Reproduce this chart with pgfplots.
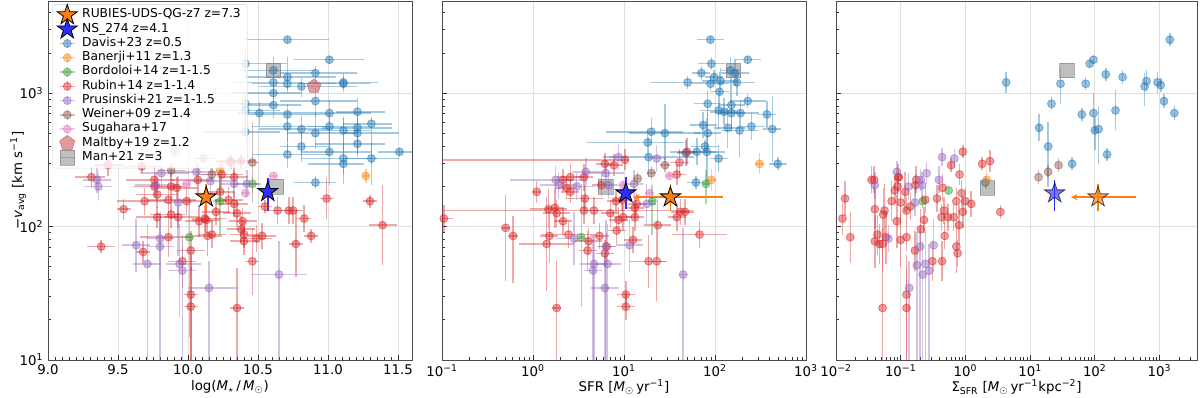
\documentclass[border=0pt]{standalone}
\usepackage{fontspec}
\setmainfont{DejaVu Sans}
\usepackage{pgfplots}
\pgfplotsset{compat=1.18}
\usepackage{pgfplotstable}
\usetikzlibrary{arrows.meta}

\definecolor{cblue}{HTML}{1F77B4}
\definecolor{corange}{HTML}{FF7F0E}
\definecolor{cgreen}{HTML}{2CA02C}
\definecolor{cred}{HTML}{D62728}
\definecolor{cpurple}{HTML}{9467BD}
\definecolor{cbrown}{HTML}{8C564B}
\definecolor{cpink}{HTML}{E377C2}
\definecolor{cmalt}{HTML}{CD5C5C}
\definecolor{cstar}{HTML}{2E2EFF}

% filled five-point star
\pgfdeclareplotmark{fstar}{%
  \pgfpathmoveto{\pgfpointpolar{90}{\pgfplotmarksize}}%
  \pgfpathlineto{\pgfpointpolar{126}{0.382\pgfplotmarksize}}%
  \pgfpathlineto{\pgfpointpolar{162}{\pgfplotmarksize}}%
  \pgfpathlineto{\pgfpointpolar{198}{0.382\pgfplotmarksize}}%
  \pgfpathlineto{\pgfpointpolar{234}{\pgfplotmarksize}}%
  \pgfpathlineto{\pgfpointpolar{270}{0.382\pgfplotmarksize}}%
  \pgfpathlineto{\pgfpointpolar{306}{\pgfplotmarksize}}%
  \pgfpathlineto{\pgfpointpolar{342}{0.382\pgfplotmarksize}}%
  \pgfpathlineto{\pgfpointpolar{18}{\pgfplotmarksize}}%
  \pgfpathlineto{\pgfpointpolar{54}{0.382\pgfplotmarksize}}%
  \pgfpathclose
  \pgfusepathqfillstroke}

\pgfplotsset{
  ds/.style={only marks, mark=*, mark size=3pt,
    mark options={fill=#1, draw=#1, fill opacity=0.45, draw opacity=0.5, line width=0.6pt},
    error bars/y dir=both, error bars/y explicit, error bars/error mark=none,
    error bars/error bar style={#1, opacity=0.4, line width=1.1pt}},
  dsx/.style={ds=#1, error bars/x dir=both, error bars/x explicit},
  man/.style={only marks, mark=square*, mark size=5.5pt,
    mark options={fill=gray, draw=gray, fill opacity=0.5, draw opacity=0.6}},
  malt/.style={only marks, mark=pentagon*, mark size=5.5pt,
    mark options={fill=cmalt, draw=cmalt!80!black, fill opacity=0.6, draw opacity=0.6}},
  starp/.style 2 args={only marks, mark=fstar, mark size=8pt,
    mark options={fill=#1, draw=black, fill opacity=#2, draw opacity=#2, line width=0.6pt},
    error bars/y dir=both, error bars/y explicit, error bars/error mark=none,
    error bars/error bar style={#1, line width=1.1pt}},
  panel/.style={scale only axis, height=269.25pt, anchor=south west,
    ymin=1, ymax=3.69, ytick={1,2,3},
    minor ytick={1.30103,1.47712,1.60206,1.69897,1.77815,1.84510,1.90309,1.95424,
      2.30103,2.47712,2.60206,2.69897,2.77815,2.84510,2.90309,2.95424,
      3.30103,3.47712,3.60206},
    tick align=inside, xtick pos=bottom, ytick pos=left,
    xmajorgrids, ymajorgrids, major grid style={black!12, line width=0.7pt},
    major tick length=4pt, minor tick length=2.2pt,
    every tick/.style={black!80, line width=0.5pt},
    tick label style={font=\fontsize{10}{12}\selectfont},
    label style={font=\fontsize{10}{12}\selectfont},
    every axis x label/.style={at={(axis description cs:0.5,0)}, anchor=north, yshift=-11.5pt},
    every axis y label/.style={at={(axis description cs:-0.082,0.5)}, anchor=center, rotate=90},
    axis line style={black!70, line width=0.7pt}},
}

\newcommand\legerr[1]{\addlegendimage{legend image code/.code={%
  \path (0cm,0cm) (0.6cm,0cm);
  \draw[overlay, #1, draw opacity=0.4, line width=1.1pt] (0.1cm,0cm) -- (0.5cm,0cm) (0.3cm,-0.13cm) -- (0.3cm,0.13cm);
  \draw[overlay, #1, fill=#1, fill opacity=0.45, draw opacity=0.5, line width=0.6pt] (0.3cm,0cm) circle (3pt);}}}

% ---------------- panel 1: log stellar mass ----------------
\pgfplotstableread{
x y exm exp eym eyp
10.71 3.40 0.30 0.30 0.03 0.03
11.01 3.25 0.25 0.25 0.03 0.03
10.41 3.22 0.20 0.30 0.10 0.12
10.61 3.17 0.25 0.30 0.20 0.10
10.91 3.15 0.25 0.30 0.08 0.05
10.71 3.12 0.30 0.35 0.10 0.15
10.61 3.08 0.30 0.20 0.08 0.10
10.71 3.07 0.25 0.35 0.06 0.06
10.81 3.05 0.30 0.40 0.08 0.06
11.11 3.07 0.30 0.20 0.06 0.08
11.11 3.08 0.25 0.25 0.05 0.05
10.61 3.00 0.30 0.20 0.10 0.08
10.41 2.92 0.30 0.20 0.15 0.10
10.61 2.91 0.20 0.20 0.10 0.10
10.91 2.94 0.25 0.30 0.12 0.10
10.41 2.87 0.30 0.25 0.10 0.10
10.51 2.85 0.15 0.25 0.10 0.08
10.71 2.84 0.30 0.30 0.30 0.08
11.01 2.85 0.25 0.30 0.15 0.10
11.21 2.86 0.15 0.20 0.10 0.10
10.41 2.71 0.30 0.25 0.08 0.08
10.71 2.75 0.25 0.30 0.12 0.10
10.81 2.73 0.30 0.20 0.20 0.10
10.91 2.70 0.20 0.30 0.12 0.15
11.01 2.75 0.15 0.30 0.20 0.10
11.11 2.72 0.25 0.20 0.15 0.10
11.21 2.74 0.25 0.25 0.20 0.10
11.21 2.70 0.10 0.30 0.15 0.10
11.31 2.77 0.20 0.15 0.30 0.05
11.21 2.62 0.30 0.20 0.10 0.10
10.81 2.60 0.15 0.20 0.12 0.10
10.71 2.54 0.25 0.30 0.10 0.08
11.01 2.56 0.20 0.30 0.25 0.15
11.11 2.51 0.30 0.25 0.12 0.30
11.11 2.47 0.25 0.15 0.15 0.15
11.31 2.51 0.20 0.20 0.20 0.12
11.51 2.56 0.15 0.15 0.03 0.03
10.91 2.33 0.15 0.15 0.05 0.05
}\tAblue
\pgfplotstableread{
x y exm exp eym eyp
10.23 2.42 0.03 0.03 0.05 0.05
11.27 2.38 0.02 0.02 0.05 0.05
}\tAorange
\pgfplotstableread{
x y exm exp eym eyp
10.46 2.32 0.05 0.05 0.07 0.05
10.23 2.19 0.05 0.05 0.25 0.20
10.01 1.92 0.03 0.03 0.75 0.30
}\tAgreen
\pgfplotstableread{
x y exm exp eym eyp
9.31 2.37 0.12 0.10 0.08 0.08
9.43 2.46 0.10 0.10 0.08 0.08
9.67 2.45 0.15 0.15 0.05 0.05
9.76 2.35 0.20 0.15 0.08 0.10
9.76 2.30 0.15 0.20 0.08 0.08
9.78 2.24 0.15 0.15 0.10 0.10
9.88 2.30 0.15 0.10 0.10 0.10
9.92 2.29 0.15 0.15 0.08 0.08
9.86 2.20 0.15 0.20 0.10 0.10
9.69 2.19 0.20 0.15 0.10 0.10
9.54 2.13 0.05 0.05 0.08 0.08
9.78 2.07 0.15 0.15 0.08 0.08
9.88 2.09 0.15 0.10 0.10 0.10
9.93 2.07 0.10 0.15 0.08 0.08
9.99 2.19 0.10 0.10 0.10 0.10
10.07 2.35 0.20 0.10 0.10 0.12
10.23 2.26 0.10 0.10 0.10 0.10
10.24 2.39 0.15 0.15 0.10 0.10
10.29 2.20 0.10 0.10 0.10 0.10
10.08 2.04 0.10 0.10 0.12 0.12
10.12 2.06 0.10 0.15 0.10 0.10
10.14 1.93 0.10 0.10 0.15 0.15
10.17 1.94 0.10 0.10 0.10 0.10
10.20 2.11 0.10 0.10 0.10 0.10
9.86 1.92 0.20 0.15 0.15 0.20
10.02 1.82 0.10 0.10 0.15 0.15
9.68 1.81 0.05 0.05 0.08 0.08
9.38 1.85 0.10 0.10 0.05 0.05
9.96 1.74 0.10 0.10 0.20 0.20
10.02 1.49 0.05 0.05 0.60 0.30
10.02 1.40 0.05 0.05 0.40 0.30
10.30 2.49 0.10 0.10 0.05 0.05
10.31 2.48 0.10 0.10 0.05 0.05
10.38 2.49 0.10 0.10 0.05 0.05
10.33 2.37 0.10 0.10 0.08 0.08
10.33 2.17 0.10 0.10 0.10 0.10
10.35 2.10 0.10 0.10 0.10 0.10
10.39 2.04 0.10 0.10 0.10 0.10
10.38 1.98 0.10 0.10 0.10 0.10
10.40 1.94 0.10 0.10 0.10 0.10
10.40 1.89 0.10 0.10 0.10 0.10
10.49 1.91 0.10 0.10 0.10 0.10
10.53 1.93 0.10 0.10 0.10 0.10
10.55 2.15 0.05 0.05 0.05 0.05
10.64 2.12 0.10 0.10 0.10 0.10
10.72 2.12 0.10 0.10 0.10 0.10
10.75 2.12 0.05 0.05 0.10 0.10
10.83 2.06 0.05 0.05 0.10 0.10
10.88 1.93 0.05 0.05 0.05 0.05
10.77 1.87 0.05 0.05 0.25 0.25
10.46 1.74 0.05 0.05 0.25 0.25
10.35 1.39 0.05 0.05 0.60 0.30
10.13 2.05 0.10 0.10 0.10 0.10
10.99 2.21 0.05 0.05 0.15 0.15
11.30 2.19 0.05 0.05 0.05 0.05
11.39 2.01 0.10 0.10 0.30 0.30
}\tAred
\pgfplotstableread{
x y exm exp eym eyp
9.35 2.35 0.10 0.10 0.10 0.10
9.36 2.30 0.10 0.10 0.10 0.10
9.81 2.40 0.15 0.20 0.10 0.10
9.77 2.31 0.15 0.15 0.10 0.10
10.06 2.41 0.20 0.15 0.10 0.10
9.93 2.18 0.10 0.10 0.40 0.20
10.16 2.34 0.15 0.15 0.10 0.10
9.63 1.86 0.10 0.10 0.20 0.20
9.80 1.91 0.10 0.10 0.30 0.20
9.80 1.85 0.10 0.10 0.85 0.20
9.71 1.72 0.10 0.10 0.72 0.30
9.94 1.72 0.10 0.15 0.40 0.30
9.96 1.67 0.10 0.10 0.67 0.20
10.15 1.54 0.15 0.20 0.54 0.20
10.65 1.64 0.20 0.20 0.64 0.25
10.33 2.32 0.10 0.10 0.10 0.10
10.42 2.32 0.10 0.10 0.10 0.10
10.11 2.51 0.10 0.10 0.05 0.05
}\tApurple
\pgfplotstableread{
x y exm exp eym eyp
9.88 2.42 0.10 0.10 0.05 0.05
10.17 2.39 0.10 0.10 0.05 0.05
10.46 2.48 0.05 0.05 0.30 0.30
}\tAbrown
\pgfplotstableread{
x y exm exp eym eyp
9.43 2.47 0.03 0.03 0.03 0.03
9.91 2.56 0.03 0.03 0.03 0.03
9.99 2.32 0.03 0.03 0.03 0.03
10.41 2.25 0.03 0.03 0.03 0.03
10.61 2.38 0.03 0.03 0.03 0.03
}\tApink

% ---------------- panel 2: log SFR ----------------
\pgfplotstableread{
x y exm exp eym eyp
1.95 3.40 0.15 0.15 0.03 0.03
2.36 3.25 0.15 0.15 0.03 0.03
1.96 3.22 0.15 0.15 0.05 0.05
2.17 3.17 0.10 0.10 0.25 0.10
2.22 3.15 0.15 0.15 0.10 0.10
1.85 3.15 0.10 0.10 0.05 0.05
1.99 3.12 0.10 0.10 0.05 0.05
1.70 3.08 0.40 0.40 0.05 0.05
1.95 3.07 0.20 0.20 0.05 0.05
2.06 3.09 0.20 0.20 0.10 0.10
2.24 3.08 0.20 0.20 0.10 0.10
2.05 3.01 0.10 0.10 0.15 0.15
1.92 2.92 0.15 0.15 0.10 0.10
2.18 2.91 0.15 0.15 0.20 0.20
2.36 2.94 0.20 0.20 0.05 0.05
2.04 2.87 0.20 0.20 0.15 0.15
2.10 2.86 0.15 0.15 0.10 0.10
2.18 2.85 0.15 0.15 0.10 0.10
2.28 2.85 0.20 0.20 0.10 0.10
2.57 2.84 0.10 0.10 0.10 0.10
1.87 2.76 0.15 0.15 0.10 0.10
1.92 2.70 0.15 0.15 0.15 0.15
2.14 2.74 0.15 0.20 0.15 0.15
2.27 2.72 0.20 0.20 0.20 0.15
2.40 2.75 0.15 0.15 0.10 0.10
2.63 2.73 0.10 0.10 0.25 0.25
1.30 2.71 0.50 0.35 0.10 0.10
1.45 2.70 0.40 0.40 0.20 0.22
1.26 2.63 0.67 0.40 0.10 0.10
1.89 2.60 0.15 0.15 0.05 0.05
1.80 2.56 0.30 0.20 0.10 0.10
1.91 2.56 0.20 0.20 0.25 0.25
1.27 2.52 0.50 0.50 0.15 0.15
2.04 2.51 0.10 0.10 0.10 0.10
1.68 2.55 0.10 0.10 0.10 0.10
2.69 2.47 0.10 0.10 0.05 0.05
1.79 2.33 0.10 0.10 0.05 0.05
}\tBblue
\pgfplotstableread{
x y exm exp eym eyp
2.49 2.47 0.05 0.05 0.08 0.08
1.96 2.35 0.05 0.05 0.08 0.08
}\tBorange
\pgfplotstableread{
x y exm exp eym eyp
1.90 2.32 0.03 0.03 0.15 0.10
1.31 2.19 0.03 0.03 0.25 0.12
0.53 1.92 0.03 0.03 0.52 0.40
}\tBgreen
\pgfplotstableread{
x y exm exp eym eyp
-0.98 2.06 0.10 0.10 0.10 0.10
1.01 2.50 2.20 0.05 0.08 0.08
0.79 2.47 0.10 0.10 0.08 0.08
0.89 2.46 0.10 0.10 0.08 0.08
1.69 2.56 0.10 0.10 0.10 0.10
1.61 2.48 0.10 0.10 0.10 0.10
1.58 2.39 0.10 0.10 0.08 0.08
0.41 2.37 0.15 0.15 0.10 0.10
0.56 2.37 0.10 0.10 0.10 0.10
0.33 2.35 0.10 0.10 0.08 0.08
0.75 2.31 0.10 0.10 0.08 0.08
0.37 2.29 0.10 0.10 0.08 0.08
0.41 2.26 0.10 0.10 0.08 0.08
0.04 2.26 0.05 0.05 0.08 0.08
0.57 2.21 0.20 0.20 0.10 0.10
0.91 2.19 0.10 0.10 0.08 0.08
0.98 2.20 0.10 0.10 0.08 0.08
1.14 2.17 0.10 0.10 0.08 0.08
1.12 2.14 0.10 0.10 0.08 0.08
0.17 2.13 0.20 0.20 0.15 0.15
0.24 2.14 0.10 0.10 0.15 0.15
0.26 2.10 0.15 0.15 0.10 0.10
0.33 2.04 0.10 0.10 0.10 0.10
0.56 2.12 1.60 1.20 0.10 0.10
0.67 2.12 0.10 0.10 0.10 0.10
0.85 2.10 0.10 0.10 0.10 0.10
0.94 2.05 0.10 0.10 0.10 0.10
0.99 2.07 0.10 0.10 0.10 0.10
1.12 2.07 0.10 0.10 0.10 0.10
0.92 1.97 0.10 0.10 0.10 0.10
1.58 2.07 0.10 0.10 0.10 0.10
1.62 2.11 0.10 0.10 0.10 0.10
1.67 2.11 0.10 0.10 0.10 0.10
1.37 2.01 0.15 0.15 0.25 0.20
-0.30 1.99 0.05 0.05 0.40 0.25
-0.22 1.93 0.05 0.05 0.35 0.15
0.18 1.93 0.10 0.10 0.20 0.20
0.15 1.87 0.30 0.30 0.35 0.35
0.39 1.94 0.30 0.30 0.10 0.10
0.73 1.93 0.10 0.10 0.10 0.10
0.61 1.89 0.15 0.15 0.10 0.10
0.60 1.82 0.10 0.10 0.15 0.15
0.81 1.85 0.10 0.10 0.10 0.10
0.79 1.80 0.10 0.10 0.10 0.10
1.10 1.90 0.10 0.10 0.10 0.10
1.27 1.74 0.20 0.20 0.20 0.20
1.36 1.74 0.10 0.10 0.30 0.30
1.02 1.49 0.10 0.10 0.10 0.10
1.02 1.40 0.10 0.10 0.10 0.10
0.26 1.39 0.05 0.05 0.40 0.35
1.83 1.94 0.30 0.30 0.10 0.10
}\tBred
\pgfplotstableread{
x y exm exp eym eyp
0.94 2.52 0.10 0.10 0.10 0.10
1.36 2.51 0.10 0.10 0.10 0.10
0.58 2.41 0.15 0.20 0.10 0.10
0.80 2.40 0.20 0.20 0.10 0.10
0.25 2.35 0.50 0.30 0.10 0.10
0.28 2.31 0.20 0.20 0.10 0.10
0.48 2.30 0.20 0.20 0.10 0.10
1.11 2.32 0.10 0.10 0.10 0.10
1.25 2.17 0.10 0.10 0.15 0.15
0.83 2.31 0.10 0.10 0.10 0.10
0.45 1.91 0.20 0.20 0.20 0.20
0.80 1.85 0.10 0.10 0.85 0.20
1.06 1.86 0.15 0.15 0.20 0.20
0.67 1.72 0.15 0.15 0.72 0.20
0.82 1.72 0.15 0.15 0.72 0.30
0.66 1.67 0.10 0.10 0.67 0.25
0.79 1.54 0.15 0.15 0.54 0.25
1.65 1.64 0.05 0.05 0.64 0.35
}\tBpurple
\pgfplotstableread{
x y exm exp eym eyp
1.45 2.46 0.05 0.05 0.05 0.05
1.30 2.40 0.05 0.05 0.05 0.05
1.15 2.36 0.05 0.05 0.05 0.05
}\tBbrown
\pgfplotstableread{
x y exm exp eym eyp
1.50 2.38 0.05 0.05 0.03 0.03
1.28 2.25 0.05 0.05 0.03 0.03
0.99 2.31 0.05 0.05 0.03 0.03
}\tBpink

% ---------------- panel 3: log Sigma_SFR ----------------
\pgfplotstableread{
x y eym eyp
0.63 3.08 0.08 0.08
1.47 3.07 0.15 0.12
1.33 2.92 0.05 0.05
1.14 2.74 0.10 0.10
1.28 2.60 0.30 0.18
1.65 2.47 0.05 0.05
1.92 3.22 0.03 0.03
1.98 3.25 0.03 0.03
2.17 3.14 0.05 0.05
2.43 3.12 0.05 0.05
1.86 3.07 0.05 0.05
2.77 3.05 0.15 0.10
2.80 3.09 0.08 0.08
2.97 3.08 0.08 0.08
3.02 3.06 0.05 0.05
3.16 3.40 0.05 0.05
3.07 2.94 0.05 0.05
3.23 2.85 0.05 0.05
1.80 2.84 0.05 0.05
1.98 2.85 0.15 0.15
2.32 2.87 0.15 0.15
2.00 2.72 0.15 0.10
2.06 2.73 0.26 0.17
2.19 2.54 0.05 0.05
0.31 2.33 0.05 0.05
}\tCblue
\pgfplotstableread{
x y eym eyp
0.33 2.35 0.07 0.07
}\tCorange
\pgfplotstableread{
x y eym eyp
-0.26 2.27 0.03 0.03
-0.66 2.19 0.05 0.05
}\tCgreen
\pgfplotstableread{
x y eym eyp
-0.04 2.56 0.05 0.05
-0.22 2.46 0.05 0.05
0.26 2.47 0.05 0.05
0.38 2.49 0.08 0.08
-0.09 2.39 0.08 0.08
-0.35 2.29 0.10 0.10
-0.06 2.25 0.10 0.10
0.00 2.19 0.10 0.10
0.09 2.17 0.10 0.10
-0.14 2.19 0.10 0.10
-0.04 2.11 0.12 0.12
-0.33 2.12 0.10 0.10
-0.37 2.07 0.10 0.10
-0.27 2.07 0.10 0.10
-0.18 2.07 0.10 0.10
-0.10 2.01 0.15 0.15
-0.14 1.85 0.20 0.20
-0.12 1.80 0.10 0.10
-0.32 1.93 0.10 0.10
-0.36 1.74 0.15 0.15
-0.51 1.74 0.15 0.15
-0.44 2.21 0.10 0.10
0.54 2.11 0.05 0.05
-0.76 2.35 0.10 0.10
-0.77 2.31 0.08 0.08
-0.62 2.20 0.10 0.10
-0.64 2.05 0.10 0.10
-0.69 1.98 0.15 0.15
-0.78 1.82 0.15 0.15
-0.91 1.92 0.10 0.10
-0.91 2.12 0.10 0.10
-0.85 2.15 0.10 0.10
-0.93 2.26 0.15 0.15
-1.04 2.37 0.10 0.10
-1.00 2.18 0.15 0.15
-1.05 2.30 0.10 0.10
-1.06 2.04 0.20 0.20
-1.09 2.27 0.10 0.10
-1.00 1.90 0.20 0.20
-1.14 2.19 0.15 0.15
-1.25 2.12 0.20 0.20
-1.27 2.09 0.20 0.20
-1.23 1.92 0.20 0.20
-1.28 1.87 0.20 0.20
-1.33 1.87 0.15 0.15
-1.36 1.94 0.15 0.15
-1.40 1.89 0.20 0.20
-1.40 2.13 0.15 0.15
-1.41 2.35 0.10 0.10
-1.45 2.35 0.10 0.10
-1.28 1.39 0.60 0.60
-0.91 1.49 0.60 0.30
-0.91 1.39 0.50 0.30
-1.86 2.21 0.13 0.13
-1.90 2.06 0.12 0.12
-1.78 1.92 0.19 0.19
-1.03 2.37 0.05 0.05
}\tCred
\pgfplotstableread{
x y eym eyp
-0.36 2.52 0.07 0.07
-0.17 2.51 0.07 0.07
-1.06 2.41 0.08 0.08
-0.60 2.40 0.08 0.08
-0.69 2.35 0.08 0.08
-0.67 2.31 0.10 0.10
-0.41 2.35 0.10 0.10
-0.88 2.30 0.10 0.10
-1.40 2.31 0.10 0.10
-0.78 2.18 0.10 0.15
-1.19 1.91 0.10 0.10
-0.70 1.85 0.85 0.15
-0.49 1.86 0.20 0.20
-0.75 1.71 0.71 0.25
-0.62 1.72 0.72 0.25
-0.56 1.67 0.67 0.20
-0.66 1.64 0.64 0.25
-0.87 1.54 0.54 0.20
}\tCpurple
\pgfplotstableread{
x y eym eyp
1.44 2.46 0.05 0.05
1.28 2.41 0.05 0.05
1.13 2.37 0.05 0.05
}\tCbrown

\begin{document}
\begin{tikzpicture}
\useasboundingbox (0,0) rectangle (900pt,297.75pt);

% ===== panel 1 =====
\begin{axis}[panel, at={(36pt,27.75pt)}, width=273pt,
  xmin=9.0, xmax=11.6, xtick={9,9.5,10,10.5,11,11.5},
  xticklabels={9.0,9.5,10.0,10.5,11.0,11.5}, minor x tick num=9,
  yticklabels={10\textsuperscript{1},10\textsuperscript{2},10\textsuperscript{3}},
  xlabel={log(\textit{M}\textsubscript{$\star$}\,/\,\textit{M}\textsubscript{$\odot$})},
  ylabel={−\textit{v}\textsubscript{avg} [km s\textsuperscript{−1}]},
  legend cell align=left,
  legend style={at={(0.011,0.991)}, anchor=north west,
    font=\fontsize{9.2}{10}\selectfont, draw=black!15, rounded corners=2pt,
    fill=white, fill opacity=0.8, draw opacity=0.8, text opacity=1,
    inner sep=2.5pt, row sep=0pt,
    nodes={text height=6.3pt, text depth=2pt, inner ysep=1.2pt, inner xsep=2.5pt}},
]
\addlegendimage{legend image code/.code={\path (0cm,0cm) (0.6cm,0cm);
  \draw[overlay] plot[only marks, mark=fstar, mark size=8pt, mark options={fill=corange, draw=black, fill opacity=1, draw opacity=1, line width=0.6pt}] coordinates {(0.3cm,0cm)};}}
\addlegendentry{RUBIES-UDS-QG-z7 z=7.3}
\addlegendimage{legend image code/.code={\path (0cm,0cm) (0.6cm,0cm);
  \draw[overlay] plot[only marks, mark=fstar, mark size=8pt, mark options={fill=cstar, draw=black, fill opacity=1, draw opacity=1, line width=0.6pt}] coordinates {(0.3cm,0cm)};}}
\addlegendentry{NS\_274 z=4.1}
\legerr{cblue}\addlegendentry{Davis+23 z=0.5}
\legerr{corange}\addlegendentry{Banerji+11 z=1.3}
\legerr{cgreen}\addlegendentry{Bordoloi+14 z=1-1.5}
\legerr{cred}\addlegendentry{Rubin+14 z=1-1.4}
\legerr{cpurple}\addlegendentry{Prusinski+21 z=1-1.5}
\legerr{cbrown}\addlegendentry{Weiner+09 z=1.4}
\legerr{cpink}\addlegendentry{Sugahara+17}
\addlegendimage{legend image code/.code={\path (0cm,0cm) (0.6cm,0cm);
  \draw[overlay] plot[only marks, mark=pentagon*, mark size=6pt, mark options={fill=cmalt, draw=cmalt!80!black, fill opacity=0.6, draw opacity=0.6}] coordinates {(0.3cm,0cm)};}}
\addlegendentry{Maltby+19 z=1.2}
\addlegendimage{legend image code/.code={\path (0cm,0cm) (0.6cm,0cm);
  \draw[overlay, gray, draw opacity=0.5, line width=1.1pt] (0.1cm,0cm) -- (0.5cm,0cm);
  \draw[overlay] plot[only marks, mark=square*, mark size=5.5pt, mark options={fill=gray, draw=gray, fill opacity=0.5, draw opacity=0.6}] coordinates {(0.3cm,0cm)};}}
\addlegendentry{Man+21 z=3}

\addplot[man, forget plot] coordinates {(10.61,3.17) (10.63,2.30)};
\addplot[dsx=cblue, forget plot] table[x error minus=exm, x error plus=exp, y error minus=eym, y error plus=eyp] {\tAblue};
\addplot[dsx=corange, forget plot] table[x error minus=exm, x error plus=exp, y error minus=eym, y error plus=eyp] {\tAorange};
\addplot[dsx=cgreen, forget plot] table[x error minus=exm, x error plus=exp, y error minus=eym, y error plus=eyp] {\tAgreen};
\addplot[dsx=cred, forget plot] table[x error minus=exm, x error plus=exp, y error minus=eym, y error plus=eyp] {\tAred};
\addplot[dsx=cpurple, forget plot] table[x error minus=exm, x error plus=exp, y error minus=eym, y error plus=eyp] {\tApurple};
\addplot[dsx=cbrown, forget plot] table[x error minus=exm, x error plus=exp, y error minus=eym, y error plus=eyp] {\tAbrown};
\addplot[dsx=cpink, forget plot] table[x error minus=exm, x error plus=exp, y error minus=eym, y error plus=eyp] {\tApink};
\addplot[malt, forget plot] coordinates {(10.90,3.05)};
\addplot[starp={cstar}{1}, forget plot] coordinates {(10.57,2.26) -= (0,0.14) += (0,0.10)};
\addplot[starp={corange}{1}, forget plot] coordinates {(10.13,2.22) -= (0,0.10) += (0,0.10)};
\end{axis}

% ===== panel 2 =====
\begin{axis}[panel, at={(331.5pt,27.75pt)}, width=273pt,
  xmin=-1, xmax=3, xtick={-1,0,1,2,3},
  xticklabels={10\textsuperscript{−1},10\textsuperscript{0},10\textsuperscript{1},10\textsuperscript{2},10\textsuperscript{3}},
  minor xtick={-0.69897,-0.52288,-0.39794,-0.30103,-0.22185,-0.15490,-0.09691,-0.04576,
    0.30103,0.47712,0.60206,0.69897,0.77815,0.84510,0.90309,0.95424,
    1.30103,1.47712,1.60206,1.69897,1.77815,1.84510,1.90309,1.95424,
    2.30103,2.47712,2.60206,2.69897,2.77815,2.84510,2.90309,2.95424},
  yticklabels={},
  xlabel={SFR [\textit{M}\textsubscript{$\odot$}\,yr\textsuperscript{−1}]},
]
\addplot[man] coordinates {(0.80,2.30) (2.20,3.17)};
\addplot[dsx=cblue] table[x error minus=exm, x error plus=exp, y error minus=eym, y error plus=eyp] {\tBblue};
\addplot[dsx=corange] table[x error minus=exm, x error plus=exp, y error minus=eym, y error plus=eyp] {\tBorange};
\addplot[dsx=cgreen] table[x error minus=exm, x error plus=exp, y error minus=eym, y error plus=eyp] {\tBgreen};
\addplot[dsx=cred] table[x error minus=exm, x error plus=exp, y error minus=eym, y error plus=eyp] {\tBred};
\addplot[dsx=cpurple] table[x error minus=exm, x error plus=exp, y error minus=eym, y error plus=eyp] {\tBpurple};
\addplot[dsx=cbrown] table[x error minus=exm, x error plus=exp, y error minus=eym, y error plus=eyp] {\tBbrown};
\addplot[dsx=cpink] table[x error minus=exm, x error plus=exp, y error minus=eym, y error plus=eyp] {\tBpink};
\addplot[corange, line width=1.1pt, -{Stealth[length=5pt, width=4.5pt]}] coordinates {(2.09,2.22) (1.10,2.22)};
\addplot[starp={cstar}{1}] coordinates {(1.02,2.25) -= (0,0.12) += (0,0.12)};
\addplot[starp={corange}{1}] coordinates {(1.51,2.22) -= (0,0.10) += (0,0.10)};
\end{axis}

% ===== panel 3 =====
\begin{axis}[panel, at={(627pt,27.75pt)}, width=270.75pt,
  xmin=-2, xmax=3.58, xtick={-2,-1,0,1,2,3},
  xticklabels={10\textsuperscript{−2},10\textsuperscript{−1},10\textsuperscript{0},10\textsuperscript{1},10\textsuperscript{2},10\textsuperscript{3}},
  minor xtick={-1.69897,-1.52288,-1.39794,-1.30103,-1.22185,-1.15490,-1.09691,-1.04576,
    -0.69897,-0.52288,-0.39794,-0.30103,-0.22185,-0.15490,-0.09691,-0.04576,
    0.30103,0.47712,0.60206,0.69897,0.77815,0.84510,0.90309,0.95424,
    1.30103,1.47712,1.60206,1.69897,1.77815,1.84510,1.90309,1.95424,
    2.30103,2.47712,2.60206,2.69897,2.77815,2.84510,2.90309,2.95424,
    3.30103,3.47712},
  yticklabels={},
  xlabel={Σ\textsubscript{SFR} [\textit{M}\textsubscript{$\odot$}\,yr\textsuperscript{−1}kpc\textsuperscript{−2}]},
]
\addplot[man] coordinates {(1.57,3.17) (0.34,2.29)};
\addplot[ds=cblue] table[y error minus=eym, y error plus=eyp] {\tCblue};
\addplot[ds=corange] table[y error minus=eym, y error plus=eyp] {\tCorange};
\addplot[ds=cgreen] table[y error minus=eym, y error plus=eyp] {\tCgreen};
\addplot[ds=cred] table[y error minus=eym, y error plus=eyp] {\tCred};
\addplot[ds=cpurple] table[y error minus=eym, y error plus=eyp] {\tCpurple};
\addplot[ds=cbrown] table[y error minus=eym, y error plus=eyp] {\tCbrown};
\addplot[corange, line width=1.1pt, -{Stealth[length=5pt, width=4.5pt]}] coordinates {(2.64,2.22) (1.63,2.22)};
\addplot[starp={cstar}{0.65}] coordinates {(1.38,2.25) -= (0,0.13) += (0,0.10)};
\addplot[starp={corange}{0.65}] coordinates {(2.05,2.22) -= (0,0.10) += (0,0.10)};
\end{axis}
\end{tikzpicture}
\end{document}
